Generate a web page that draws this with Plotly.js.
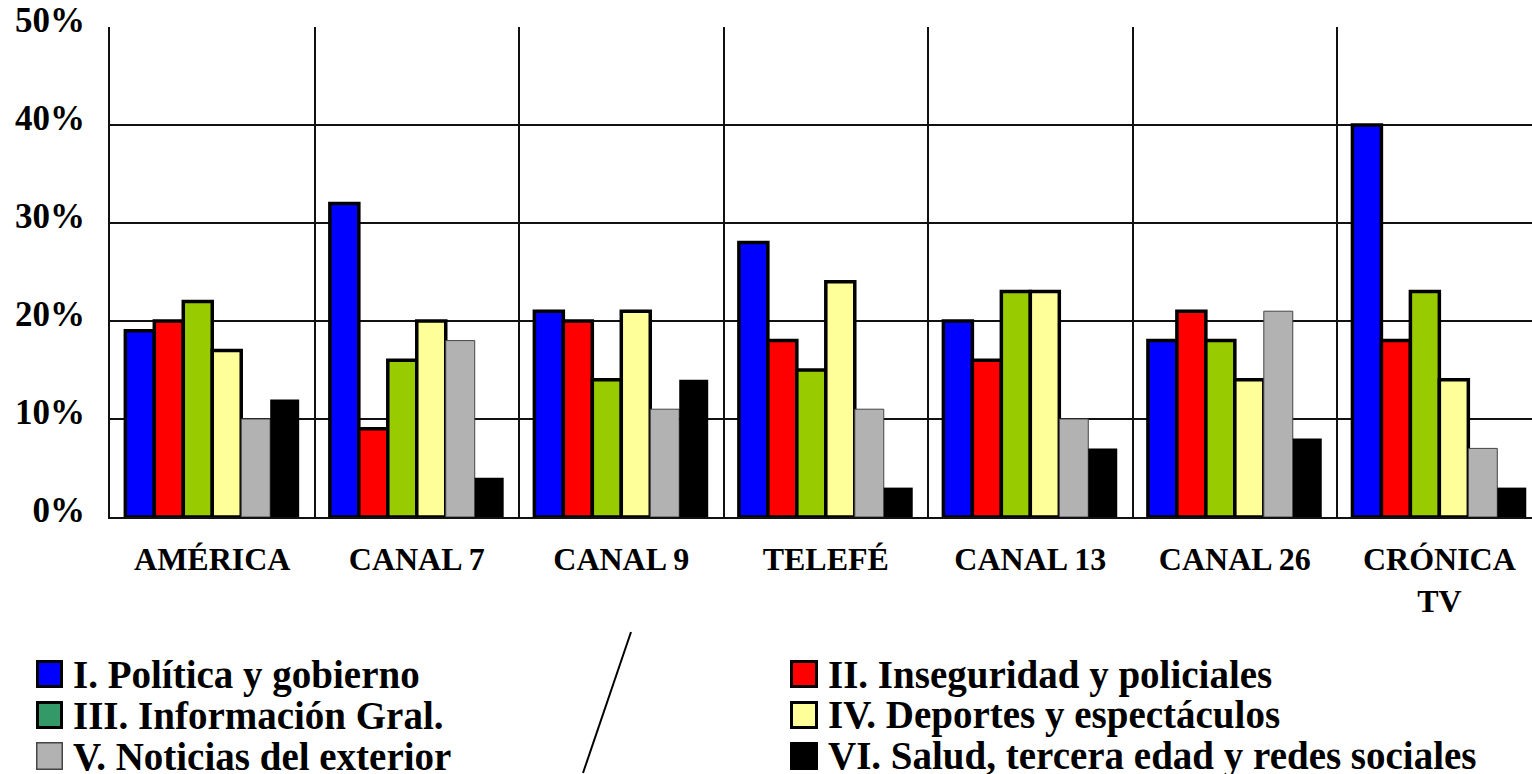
<!DOCTYPE html>
<html>
<head>
<meta charset="utf-8">
<script src="https://cdn.plot.ly/plotly-3.0.1.min.js"></script>
<style>html,body{margin:0;padding:0;background:#fff;}#chart{width:1532px;height:774px;}</style>
</head>
<body>
<div id="chart"></div>
<script>
const categories = ["AMÉRICA", "CANAL 7", "CANAL 9", "TELEFÉ", "CANAL 13", "CANAL 26", "CRÓNICA<br>TV"];
const seriesNames = [
  "I. Política y gobierno",
  "II. Inseguridad y policiales",
  "III. Información Gral.",
  "IV. Deportes y espectáculos",
  "V. Noticias del exterior",
  "VI. Salud, tercera edad y redes sociales"
];
const politica    = [19, 32, 21, 28, 20, 18, 40];
const inseguridad = [20,  9, 20, 18, 16, 21, 18];
const informacion = [22, 16, 14, 15, 23, 18, 23];
const deportes    = [17, 20, 21, 24, 23, 14, 14];
const exterior    = [10, 18, 11, 11, 10, 21,  7];
const salud       = [12,  4, 14,  3,  7,  8,  3];
const yTicks = [0, 10, 20, 30, 40, 50];
const yTickLabels = ["0%", "10%", "20%", "30%", "40%", "50%"];

const values = [politica, inseguridad, informacion, deportes, exterior, salud];
const barColors = ["#0000FF", "#FF0000", "#99CC00", "#FFFF99", "#B2B2B2", "#000000"];
const legendColors = ["#0000FF", "#FF0000", "#339966", "#FFFF99", "#B2B2B2", "#000000"];
const lineWidths = [3.5, 3.5, 3.5, 3.5, 1, 0];
const lineColors = ["#000", "#000", "#000", "#000", "#444", "#000"];

const traces = values.map((v, i) => ({
  type: "bar",
  name: seriesNames[i],
  x: categories,
  y: v,
  marker: { color: barColors[i], line: { color: lineColors[i], width: lineWidths[i] } },
  showlegend: false,
  hoverinfo: "x+y+name"
}));

// pixel -> paper helpers (plot area: x 110..1532, y 27..517)
const L = 110, R = 1532, T = 27, B = 517;
const px = x => (x - L) / (R - L);
const py = y => (B - y) / (B - T);

const font = { family: "Liberation Serif", color: "#000", weight: "bold" };

const shapes = [];
const annotations = [];
const colX = [[36, 63, 71], [790, 818, 826]];
const rowY = [[660, 688, 675], [701, 729, 715], [742, 770, 756]];
seriesNames.forEach((name, i) => {
  const col = i % 2, row = Math.floor(i / 2);
  const [x0, x1, tx] = colX[col];
  const [y0, y1, ty] = rowY[row];
  const lw = i === 5 ? 0 : (i === 4 ? 1.5 : 3);
  shapes.push({
    type: "rect", xref: "paper", yref: "paper",
    x0: px(x0 + lw / 2), x1: px(x1 - lw / 2), y0: py(y0 + lw / 2), y1: py(y1 - lw / 2),
    fillcolor: legendColors[i],
    line: { color: i === 4 ? "#444" : "#000", width: lw }
  });
  annotations.push({
    xref: "paper", yref: "paper", x: px(tx), y: py(ty),
    xanchor: "left", yanchor: "middle", showarrow: false,
    text: name, font: Object.assign({}, font, { size: 39 })
  });
});
shapes.push({
  type: "line", xref: "paper", yref: "paper",
  x0: px(631), y0: py(632), x1: px(583), y1: py(773),
  line: { color: "#000", width: 2 }
});

const layout = {
  width: 1532, height: 774,
  margin: { l: L, r: 1532 - R, t: T, b: 774 - B, pad: 0 },
  paper_bgcolor: "#fff", plot_bgcolor: "#fff",
  barmode: "group", bargap: 0.15, bargroupgap: 0,
  xaxis: {
    type: "category", range: [-0.5, 6.453], tickson: "boundaries",
    showgrid: true, gridcolor: "#111", gridwidth: 2,
    showline: true, linecolor: "#111", linewidth: 2,
    ticks: "", tickfont: Object.assign({}, font, { size: 32 }),
    ticklabelstandoff: 13, fixedrange: true
  },
  yaxis: {
    range: [0, 50], tickvals: yTicks, ticktext: yTickLabels,
    showgrid: true, gridcolor: "#111", gridwidth: 2, zeroline: false,
    showline: true, linecolor: "#111", linewidth: 2,
    ticks: "", tickfont: Object.assign({}, font, { size: 35 }),
    ticklabelstandoff: 16, ticklabelshift: -7, fixedrange: true
  },
  shapes: shapes,
  annotations: annotations
};

Plotly.newPlot("chart", traces, layout, { displayModeBar: false, staticPlot: true });
</script>
</body>
</html>
